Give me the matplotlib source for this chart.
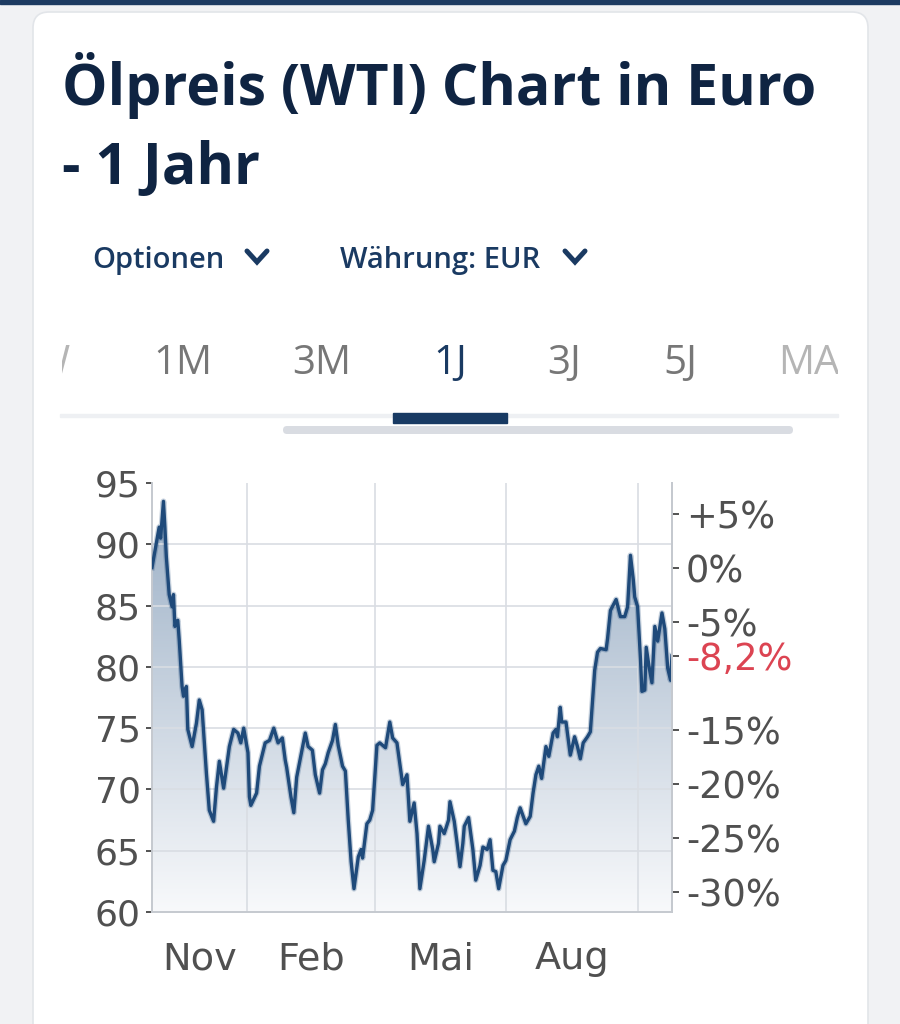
import numpy as np
import matplotlib
matplotlib.use("Agg")
import matplotlib.pyplot as plt
import matplotlib.dates as mdates
from matplotlib.patches import FancyBboxPatch, Rectangle, Polygon
from matplotlib.lines import Line2D
from matplotlib.colors import LinearSegmentedColormap

# --- data ---
start_date = "2022-10-27"
day_offsets = [0, 5, 6, 8, 9, 10, 12, 14, 15, 16, 18, 19, 21, 22, 24, 25, 28, 31, 33, 35,
               38, 40, 43, 45, 47, 50, 54, 57, 60, 62, 64, 67, 68, 69, 73, 75, 79, 82, 85, 88,
               91, 93, 94, 97, 99, 101, 104, 107, 109, 112, 114, 117, 119, 121, 123, 126, 128, 130, 133, 135,
               137, 139, 141, 144, 146, 147, 150, 152, 154, 157, 159, 163, 166, 168, 171, 173, 175, 178, 180, 183,
               185, 187, 190, 193, 196, 197, 200, 201, 204, 207, 208, 211, 213, 215, 217, 218, 221, 224, 226, 229,
               231, 234, 236, 238, 240, 242, 245, 247, 250, 253, 255, 257, 261, 264, 266, 268, 270, 272, 275, 277,
               280, 282, 283, 285, 286, 289, 292, 295, 297, 299, 301, 304, 306, 309, 311, 313, 317, 318, 320, 324,
               327, 330, 332, 334, 336, 337, 339, 341, 342, 344, 345, 347, 349, 351, 353, 356, 358, 360, 362, 363]
prices = [88.1, 91.4, 90.5, 93.5, 91.4, 89.0, 85.9, 84.9, 85.9, 83.3, 83.8, 82.2, 78.4, 77.6, 78.4, 74.9, 73.5, 75.4, 77.3, 76.5,
          71.3, 68.3, 67.4, 70.2, 72.3, 70.1, 73.5, 74.9, 74.6, 73.8, 75.0, 73.0, 69.4, 68.7, 69.7, 71.9, 73.8, 74.0, 75.0, 73.8,
          74.2, 72.4, 71.8, 69.4, 68.1, 71.0, 72.8, 74.6, 73.5, 73.2, 71.2, 69.7, 71.6, 72.1, 73.0, 74.0, 75.3, 73.6, 71.9, 71.5,
          67.5, 64.1, 61.9, 64.5, 65.1, 64.4, 67.2, 67.5, 68.3, 73.6, 73.8, 73.4, 75.5, 74.2, 73.8, 72.1, 70.4, 71.2, 67.4, 68.9,
          66.4, 61.9, 64.2, 67.0, 65.1, 64.1, 65.6, 67.0, 66.4, 67.5, 69.0, 67.4, 65.6, 63.7, 65.6, 67.0, 67.7, 65.1, 62.6, 63.8,
          65.3, 65.1, 65.9, 63.4, 63.3, 61.9, 63.8, 64.2, 65.9, 66.6, 67.7, 68.5, 67.2, 67.8, 69.7, 71.2, 71.9, 70.9, 73.5, 72.7,
          74.6, 74.9, 74.3, 76.7, 75.5, 75.5, 72.8, 74.3, 73.5, 72.5, 73.8, 74.3, 74.7, 79.7, 81.2, 81.5, 81.4, 82.3, 84.6, 85.5,
          84.1, 84.1, 84.9, 89.1, 87.1, 85.7, 84.9, 80.6, 78.0, 78.1, 81.6, 80.0, 78.7, 83.3, 82.1, 84.4, 83.1, 79.9, 78.9, 80.9]

quarter_starts = ["2023-01-01", "2023-04-01", "2023-07-01", "2023-10-01"]
month_labels = ["Nov", "Feb", "Mai", "Aug"]
price_ticks = [60, 65, 70, 75, 80, 85, 90, 95]
pct_ticks = [5, 0, -5, -15, -20, -25, -30]
tab_labels = ["1W", "1M", "3M", "1J", "3J", "5J", "MAX"]
active_tab = "1J"

navy = "#0f2442"
navy2 = "#1a3a62"
line_col = "#1f4a7a"
grey_txt = "#505050"

fig = plt.figure(figsize=(9, 10.24), dpi=100)
fig.patch.set_facecolor("#f1f2f4")

# background layer in pixel coordinates
bg = fig.add_axes([0, 0, 1, 1])
bg.set_xlim(0, 900)
bg.set_ylim(1024, 0)
bg.axis("off")
bg.add_patch(Rectangle((0, 0), 900, 3.5, color="#1d3b61", zorder=1))
bg.add_patch(FancyBboxPatch((33, 12), 835, 1060, boxstyle="round,pad=0,rounding_size=16",
                            facecolor="white", edgecolor="#e2e5e9", lw=1.2, zorder=1))

title_font = dict(family=["Open Sans", "DejaVu Sans"], fontweight="bold", fontsize=41.2, color=navy)
bg.text(62, 105, "Ölpreis (WTI) Chart in Euro", va="baseline", ha="left", zorder=3, **title_font)
bg.text(62, 184, "- 1 Jahr", va="baseline", ha="left", zorder=3, **title_font)

opt_font = dict(family=["Open Sans", "DejaVu Sans"], fontweight="semibold", fontsize=21, color=navy2)
bg.text(92, 268, "Optionen", va="baseline", ha="left", zorder=3, **opt_font)
bg.text(340, 268, "Währung: EUR", va="baseline", ha="left", zorder=3, **opt_font)
for cx in (257, 575):
    bg.add_line(Line2D([cx - 10, cx, cx + 10], [251, 262, 251], color=navy2, lw=3.6,
                       solid_capstyle="round", solid_joinstyle="miter", zorder=3))

# period tabs, clipped at the card edges
tab_ax = fig.add_axes([62 / 900, 1 - 400 / 1024, (838 - 62) / 900, 80 / 1024])
tab_ax.set_xlim(62, 838)
tab_ax.set_ylim(400, 320)
tab_ax.axis("off")
tab_x = [40, 183, 322, 450, 564, 680, 821]
for lab, tx in zip(tab_labels, tab_x):
    col = navy2 if lab == active_tab else ("#b5b5b5" if lab in ("MAX", "1W") else "#777777")
    tab_ax.text(tx, 374, lab, ha="center", va="baseline", fontsize=29, color=col,
                family=["Open Sans", "DejaVu Sans"], clip_on=True)

bg.add_patch(Rectangle((60, 414), 778, 3, color="#eef0f3", zorder=2))
bg.add_patch(FancyBboxPatch((283, 426), 510, 8, boxstyle="round,pad=0,rounding_size=4",
                            facecolor="#d9dce2", edgecolor="none", zorder=2))
bg.add_patch(Rectangle((393, 413), 114, 10, color="#183a63", zorder=3))

# --- chart ---
dates = np.datetime64(start_date) + np.array(day_offsets).astype("timedelta64[D]")
x = mdates.date2num(dates)
y = np.array(prices)
x0, x1 = x[0], x[-1]

ax = fig.add_axes([152 / 900, 1 - 912 / 1024, 520 / 900, 429 / 1024])
ax.set_facecolor("white")

cmap = LinearSegmentedColormap.from_list("oilfill", ["#f8f9fb", "#98adc4"])
grad = np.linspace(1, 0, 256).reshape(-1, 1)
im = ax.imshow(grad, extent=[x0, x1, 60, 95], aspect="auto", cmap=cmap, origin="upper", zorder=1)
verts = [(x0, 60)] + list(zip(x, y)) + [(x1, 60)]
clip = Polygon(verts, closed=True, facecolor="none", edgecolor="none", transform=ax.transData)
ax.add_patch(clip)
im.set_clip_path(clip)

for q in quarter_starts:
    ax.axvline(mdates.date2num(np.datetime64(q)), color="#d9dde3", lw=1.4, alpha=0.85, zorder=2)
for p in price_ticks[1:-1]:
    ax.axhline(p, color="#d9dde3", lw=1.4, alpha=0.85, zorder=2)

ax.plot(x, y, color=line_col, lw=4.2, alpha=0.25, zorder=3, solid_joinstyle="round")
ax.plot(x, y, color=line_col, lw=2.4, zorder=3, solid_joinstyle="round")

ax.set_xlim(x0, x1)
ax.set_ylim(60, 95)
ax.set_yticks(price_ticks)
ax.set_yticklabels([str(p) for p in price_ticks])
ax.tick_params(axis="y", length=4, width=1.3, color="#444444", pad=4, labelsize=26, labelcolor=grey_txt)

bounds = [x0] + [mdates.date2num(np.datetime64(q)) for q in quarter_starts]
mids = [(a + b) / 2 for a, b in zip(bounds[:-1], bounds[1:])]
ax.set_xticks(mids)
ax.set_xticklabels(month_labels)
ax.tick_params(axis="x", length=0, pad=21, labelsize=27.5, labelcolor=grey_txt)

ax.spines["top"].set_visible(False)
for s in ("left", "bottom", "right"):
    ax.spines[s].set_color("#c5c9cf")
    ax.spines[s].set_linewidth(1.4)

# right axis: change relative to first price
base = prices[0]
last_pct = (prices[-1] / base - 1) * 100
ax2 = ax.twinx()
ax2.set_ylim(60, 95)
for s in ("top", "left", "bottom"):
    ax2.spines[s].set_visible(False)
ax2.spines["right"].set_color("#c5c9cf")
ax2.spines["right"].set_linewidth(1.4)
r_ticks = [base * (1 + p / 100) for p in pct_ticks] + [prices[-1]]
r_labels = [("+%d%%" % p) if p > 0 else ("%d%%" % p) for p in pct_ticks]
r_labels.append(("%.1f%%" % last_pct).replace(".", ","))
ax2.set_yticks(r_ticks)
ax2.set_yticklabels(r_labels)
ax2.tick_params(axis="y", length=5, width=1.3, color="#444444", pad=5, labelsize=26.5, labelcolor=grey_txt)
ax2.get_yticklabels()[-1].set_color("#dc4452")

for t in ax.get_xticklabels() + ax.get_yticklabels() + ax2.get_yticklabels():
    t.set_family(["DejaVu Sans"])

fig.savefig("out.png", dpi=100, facecolor=fig.get_facecolor())
